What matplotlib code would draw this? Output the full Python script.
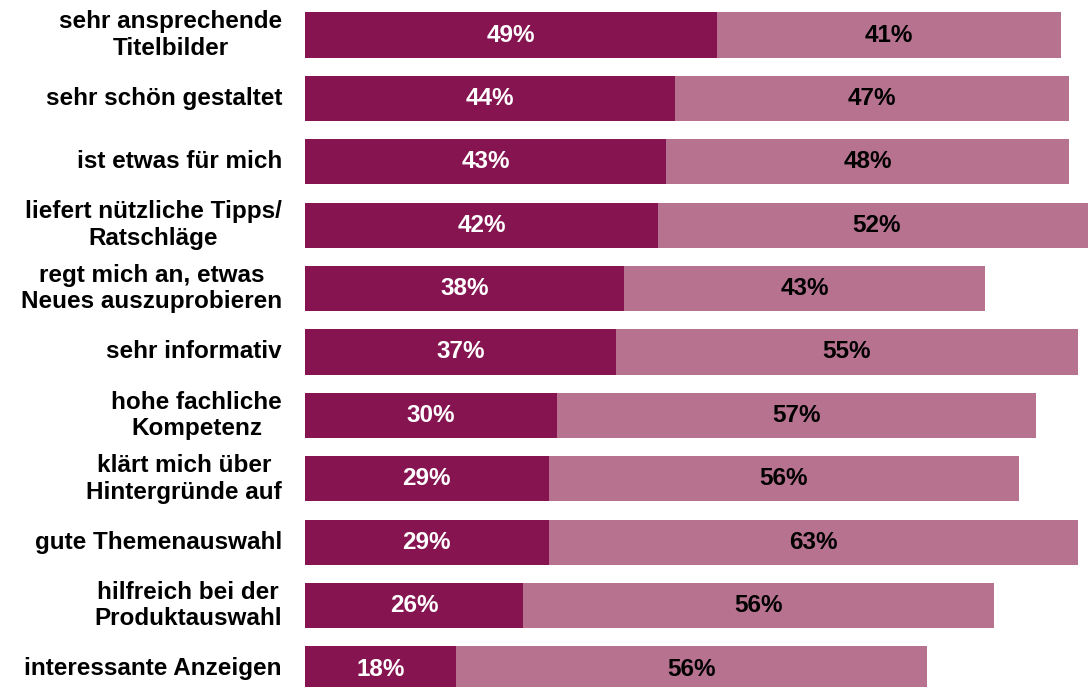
import matplotlib
matplotlib.use("Agg")
from matplotlib import pyplot as plt

# Daten
labels = [
    "sehr ansprechende\nTitelbilder",
    "sehr schön gestaltet",
    "ist etwas für mich",
    "liefert nützliche Tipps/\nRatschläge",
    "regt mich an, etwas\nNeues auszuprobieren",
    "sehr informativ",
    "hohe fachliche\nKompetenz",
    "klärt mich über\nHintergründe auf",
    "gute Themenauswahl",
    "hilfreich bei der\nProduktauswahl",
    "interessante Anzeigen",
]
stark = [49, 44, 43, 42, 38, 37, 30, 29, 29, 26, 18]
eher = [41, 47, 48, 52, 43, 55, 57, 56, 63, 56, 56]

dunkel = "#861450"
hell = "#B7728F"

plt.rcParams["font.family"] = ["Liberation Sans", "DejaVu Sans"]

fig = plt.figure(figsize=(10.88, 6.87), dpi=100)
ax = fig.add_axes([305/1088, 0, 1 - 305/1088, 1])

ys = list(range(len(labels)))
ax.barh(ys, stark, height=0.71, color=dunkel)
ax.barh(ys, eher, left=stark, height=0.71, color=hell)

for y, a, b in zip(ys, stark, eher):
    ax.text(a/2, y, f"{a}%", ha="center", va="center", color="white",
            fontsize=17.5, fontweight="bold")
    ax.text(a + b/2, y, f"{b}%", ha="center", va="center", color="black",
            fontsize=17.5, fontweight="bold")
    ax.text(-2.75, y, labels[y], ha="right", va="center", color="black",
            fontsize=17.5, fontweight="bold", linespacing=1.2,
            multialignment="center")

ax.set_xlim(0, (1088 - 305)/8.4)
ax.set_ylim(10 + 18/63.4, -35/63.4)
ax.axis("off")

fig.savefig("out.png", dpi=100)
